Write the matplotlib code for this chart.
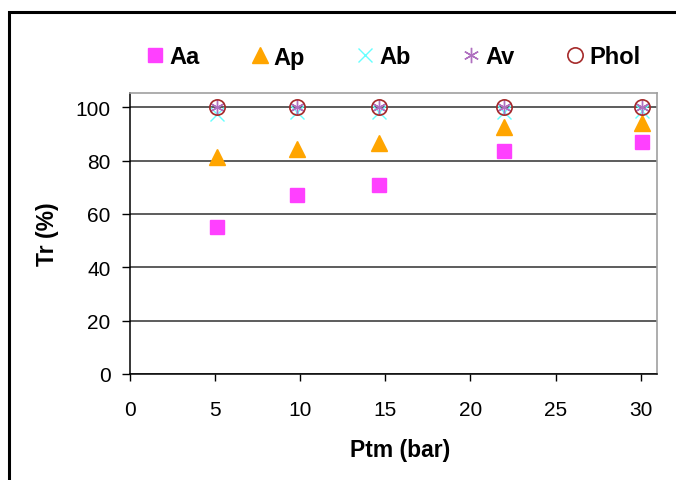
import matplotlib
matplotlib.use("Agg")
import matplotlib.pyplot as plt
from matplotlib.patches import Rectangle

plt.rcParams["font.family"] = ["Liberation Sans", "DejaVu Sans"]

# transmembrane pressure (bar)
ptm = [5.1, 9.8, 14.6, 22.0, 30.1]

# retention rates (%)
tr_aa = [55, 67, 71, 83.5, 87]
tr_ap = [81.2, 84.2, 86.5, 92.5, 94]
tr_ab = [97.5, 98, 98, 98, 98.5]
tr_av = [100, 100, 100, 100, 100]
tr_phol = [100, 100, 100, 100, 100]

fig = plt.figure(figsize=(6.76, 4.81), dpi=100)
ax = fig.add_axes([130 / 676, 1 - 375 / 481, 527 / 676, 281 / 481])

# outer frame of the chart object
fig.patches.append(Rectangle((9 / 676, -0.1), 1.0, 1 - 13 / 481 + 0.1,
                             transform=fig.transFigure, fill=False,
                             edgecolor="black", linewidth=2.2))

ax.plot(ptm, tr_aa, ls="none", marker="s", ms=10, color="#FF40FF", label="Aa", zorder=3)
ax.plot(ptm, tr_ap, ls="none", marker="^", ms=12, color="#FFA500", label="Ap", zorder=3)
ax.plot(ptm, tr_ab, ls="none", marker="x", ms=10, mew=1, color="#66FFFF", label="Ab", zorder=4)
ax.plot(ptm, tr_av, ls="none", marker=(6, 2, 0), ms=11, mew=1, color="#B070C0", label="Av", zorder=5)
ax.plot(ptm, tr_phol, ls="none", marker="o", ms=11, mfc="none", mew=1.2, color="#A52A2A", label="Phol", zorder=6)

ax.set_xlim(0, 30.96)
ax.set_ylim(0, 105.3)
ax.set_xticks(range(0, 31, 5))
ax.set_yticks(range(0, 101, 20))
ax.yaxis.grid(True, color="#303030", linewidth=1.1)
ax.set_axisbelow(True)

for side in ("top", "right"):
    ax.spines[side].set_color("#A0A0A0")
    ax.spines[side].set_linewidth(1.2)
for side in ("left", "bottom"):
    ax.spines[side].set_color("black")
    ax.spines[side].set_linewidth(1.1)

ax.tick_params(labelsize=15, width=1)
ax.tick_params(axis="x", length=5, pad=13.5)
ax.tick_params(axis="y", length=6, pad=8)

ax.set_xlabel("Ptm (bar)", fontsize=16.5, fontweight="bold")
ax.xaxis.set_label_coords(0.512, -0.228)
ax.set_ylabel("Tr (%)", fontsize=16.5, fontweight="bold")
ax.yaxis.set_label_coords(-0.135, 0.5)

leg = fig.legend(loc="center", bbox_to_anchor=(394 / 676, 1 - 58 / 481), ncol=5,
                 frameon=False, prop={"size": 17, "weight": "bold"},
                 handletextpad=0.3, columnspacing=2.25, handlelength=0.6)

fig.savefig("out.png", dpi=100)
